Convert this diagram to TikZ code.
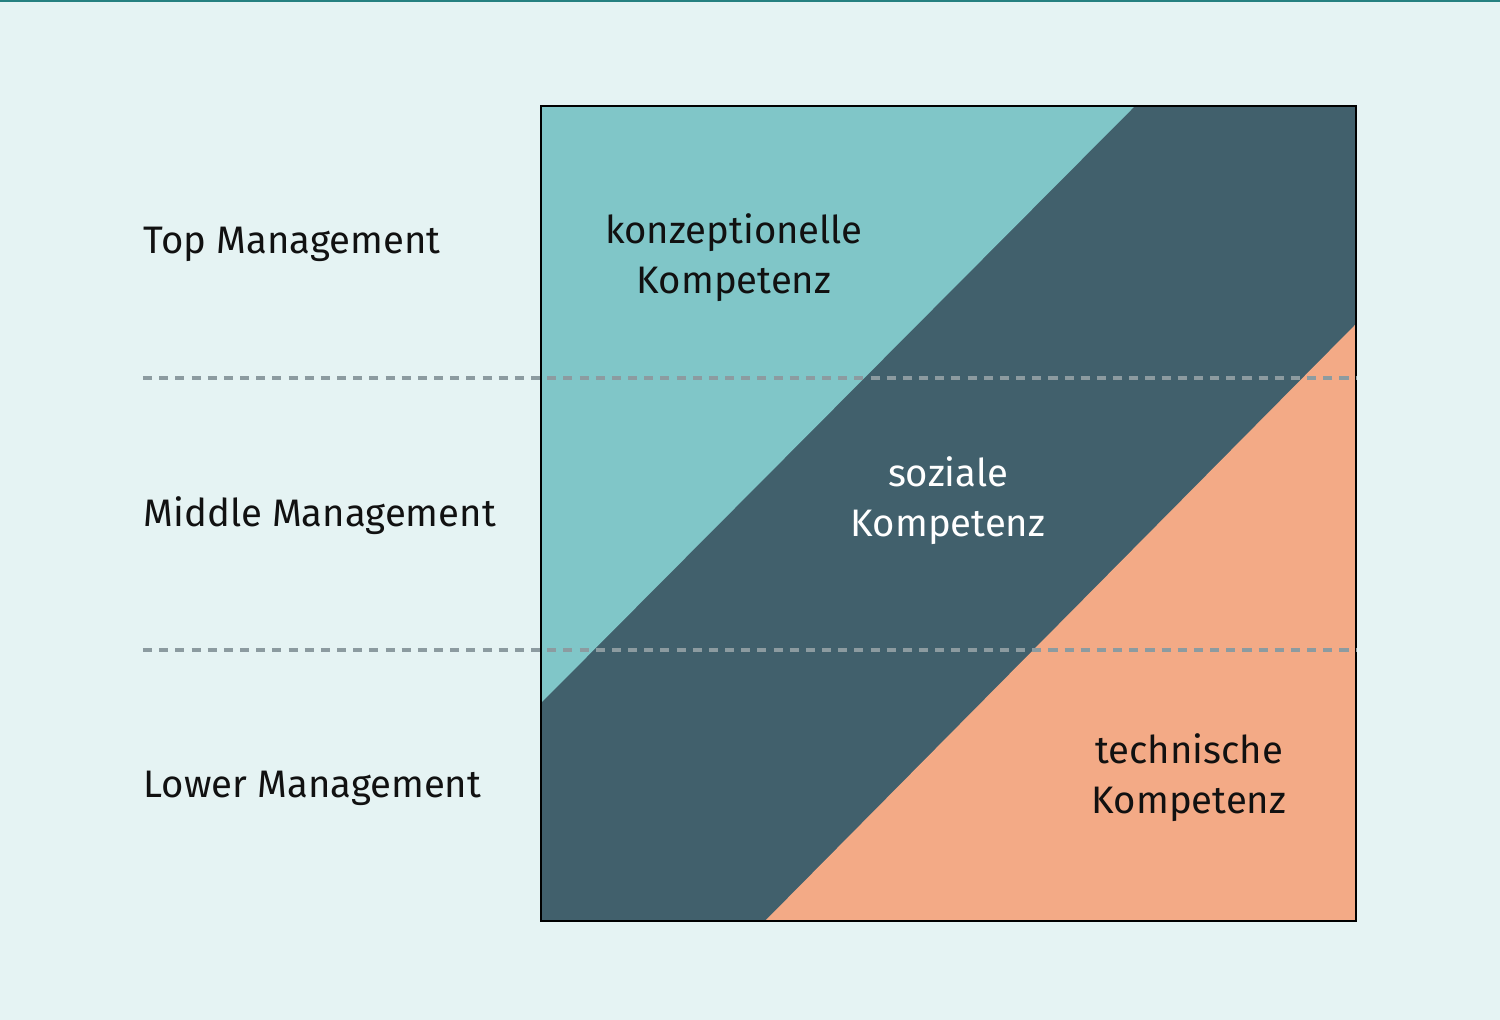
\documentclass[tikz,border=0pt]{standalone}
\usepackage{fontspec}
\setmainfont{Fira Sans}
\definecolor{BackColor}{RGB}{229,243,243}
\definecolor{TopLineColor}{RGB}{38,128,128}
\definecolor{ConceptColor}{RGB}{128,198,200}
\definecolor{SocialColor}{RGB}{65,96,108}
\definecolor{TechColor}{RGB}{243,170,134}
\definecolor{DashColor}{RGB}{140,155,160}
\definecolor{TextColor}{RGB}{17,17,17}
\usetikzlibrary{positioning}
\tikzstyle{level} = [anchor=west, inner sep=0pt, text=TextColor, font=\fontsize{10.9}{13.5}\selectfont]
\tikzstyle{skill} = [align=center, inner sep=0pt, font=\fontsize{10.9}{14.2}\selectfont]
\tikzstyle{divider} = [DashColor, line width=1pt, dash pattern=on 2.6pt off 2pt]

\begin{document}
\begin{tikzpicture}
    % Background and top rule
    \fill[BackColor] (0,0) rectangle (15,10.2);
    \fill[TopLineColor] (0,10.18) rectangle (15,10.2);

    % Square with the three bands
    \coordinate (sw) at (5.41,0.99);
    \coordinate (ne) at (13.56,9.14);
    \fill[SocialColor] (sw) rectangle (ne);
    \fill[ConceptColor] (5.41,9.14) -- (11.35,9.14) -- (5.41,3.17) -- cycle;
    \fill[TechColor] (13.56,6.96) -- (13.56,0.99) -- (7.65,0.99) -- cycle;
    \draw[line width=0.6pt, black] (sw) rectangle (ne);

    % Dividers between levels
    \coordinate (d1a) at (1.43,6.42);
    \coordinate (d1b) at (13.56,6.42);
    \coordinate (d2a) at (1.43,3.70);
    \coordinate (d2b) at (13.56,3.70);
    \draw[divider] (d1a) -- (d1b);
    \draw[divider] (d2a) -- (d2b);

    % Management levels
    \node[level] (top) at (1.43,7.76) {Top Management};
    \node[level] (middle) at (1.43,5.04) {Middle Management};
    \node[level] (lower) at (1.43,2.32) {Lower Management};

    % Skills
    \node[skill, text=TextColor] (concept) at (7.34,7.62) {konzeptionelle\\Kompetenz};
    \node[skill, text=white] (social) at (9.48,5.19) {soziale\\Kompetenz};
    \node[skill, text=TextColor] (tech) at (11.89,2.42) {technische\\Kompetenz};
\end{tikzpicture}
\end{document}
